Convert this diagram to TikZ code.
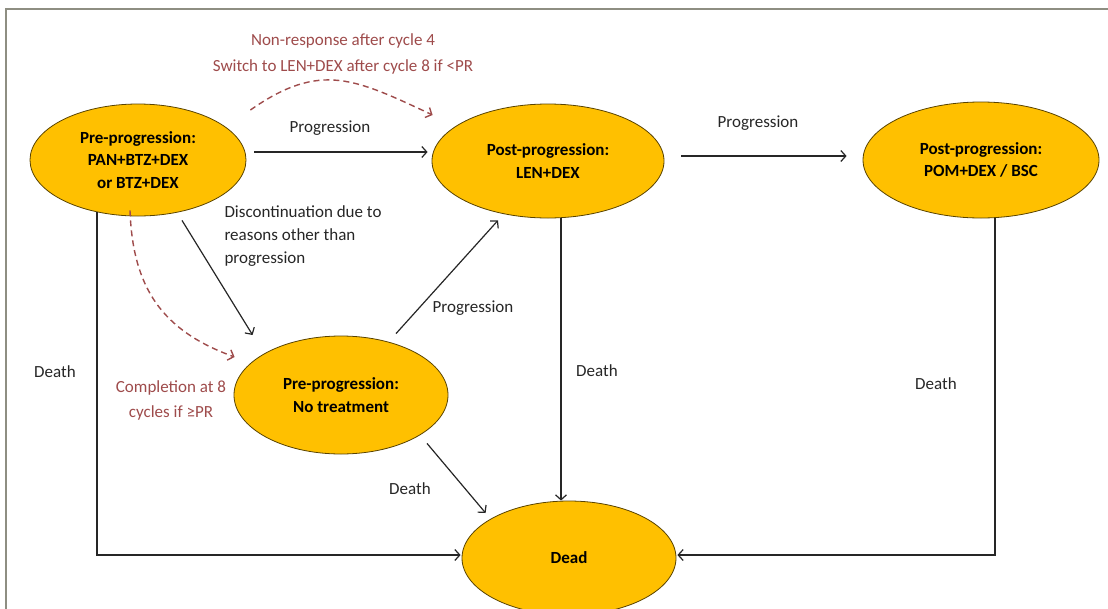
\documentclass[tikz,border=0pt]{standalone}
\usepackage{fontspec}
\setmainfont{Carlito}
\usetikzlibrary{shapes.geometric,arrows.meta}

\definecolor{stategold}{HTML}{FFC000}
\definecolor{switchred}{HTML}{9E4B4B}
\definecolor{framegray}{HTML}{8E8E82}

\tikzset{
  state/.style={ellipse, draw=black!65!stategold, fill=stategold, line width=0.8pt,
    font=\fontsize{17}{22.5}\selectfont\bfseries, align=center, inner sep=0pt},
  trans/.style={-{Straight Barb[length=5pt,width=11pt]}, draw=black!85, line width=1.2pt},
  switch/.style={trans, draw=switchred, line width=1.4pt, dash pattern=on 6pt off 4pt},
  lbl/.style={text=black!85, align=left},
  redlbl/.style={text=switchred, align=center},
}

\begin{document}
\begin{tikzpicture}[x=1pt, y=-1pt, font=\fontsize{17}{23}\selectfont]
  \clip (0,0) rectangle (1108,608);
  \draw[framegray, line width=2pt] (6,9) rectangle (1125,625);

  % States
  \node[state, minimum width=216pt, minimum height=112pt] (pre) at (138,160)
    {Pre-progression:\\PAN+BTZ+DEX\\or BTZ+DEX};
  \node[state, minimum width=232pt, minimum height=114pt] (len) at (548,161)
    {Post-progression:\\LEN+DEX};
  \node[state, minimum width=236pt, minimum height=116pt] (pom) at (981,160)
    {Post-progression:\\POM+DEX / BSC};
  \node[state, minimum width=214pt, minimum height=118pt] (notx) at (341,395)
    {Pre-progression:\\No treatment};
  \node[state, minimum width=214pt, minimum height=114pt] (dead) at (569,558)
    {Dead};

  % Transitions
  \draw[trans] ([shift={(8,-8)}]pre.east) -- ([shift={(-4,-9)}]len.west);
  \draw[trans] ([shift={(17,-5)}]len.east) -- ([shift={(-16,-4)}]pom.west);
  \draw[trans] ([shift={(44,4)}]pre.south) -- ([shift={(19,-60)}]notx.west);
  \draw[trans] ([shift={(55,-2)}]notx.north) -- ([shift={(-50,2)}]len.south);
  \draw[trans] ([shift={(13,0)}]len.south) -- ([shift={(-8,0)}]dead.north);
  \draw[trans] ([shift={(86,-11)}]notx.south) -- ([shift={(24,-45)}]dead.west);
  \draw[trans] ([shift={(-41,-4)}]pre.south) |- ([shift={(-1,-3)}]dead.west);
  \draw[trans] ([shift={(14,0)}]pom.south) |- ([shift={(1,-3)}]dead.east);

  % Treatment switches
  \draw[switch] ([shift={(4,-50)}]pre.east) to[out=35, in=155, looseness=1.2]
    ([shift={(1,-46)}]len.west);
  \draw[switch] ([shift={(-8,-6)}]pre.south) to[out=-88, in=160, looseness=1.1]
    ([shift={(1,-38)}]notx.west);

  % Labels
  \node[lbl] (progA) at (330,128) {Progression};
  \node[lbl] (progB) at (758,123) {Progression};
  \node[lbl] (progC) at (473,308) {Progression};
  \node[lbl, anchor=west] (disc) at (221,236)
    {Discontinuation due to\\reasons other than\\progression};
  \node[lbl] (deathA) at (55,372) {Death};
  \node[lbl] (deathB) at (597,371) {Death};
  \node[lbl] (deathC) at (410,489) {Death};
  \node[lbl] (deathD) at (936,384) {Death};
  \node[redlbl, font=\fontsize{17}{26}\selectfont] (nonresp) at (343,54)
    {Non-response after cycle 4\\Switch to LEN+DEX after cycle 8 if <PR};
  \node[redlbl, font=\fontsize{17}{25}\selectfont] (compl) at (171,400)
    {Completion at 8\\cycles if ≥PR};
\end{tikzpicture}
\end{document}
